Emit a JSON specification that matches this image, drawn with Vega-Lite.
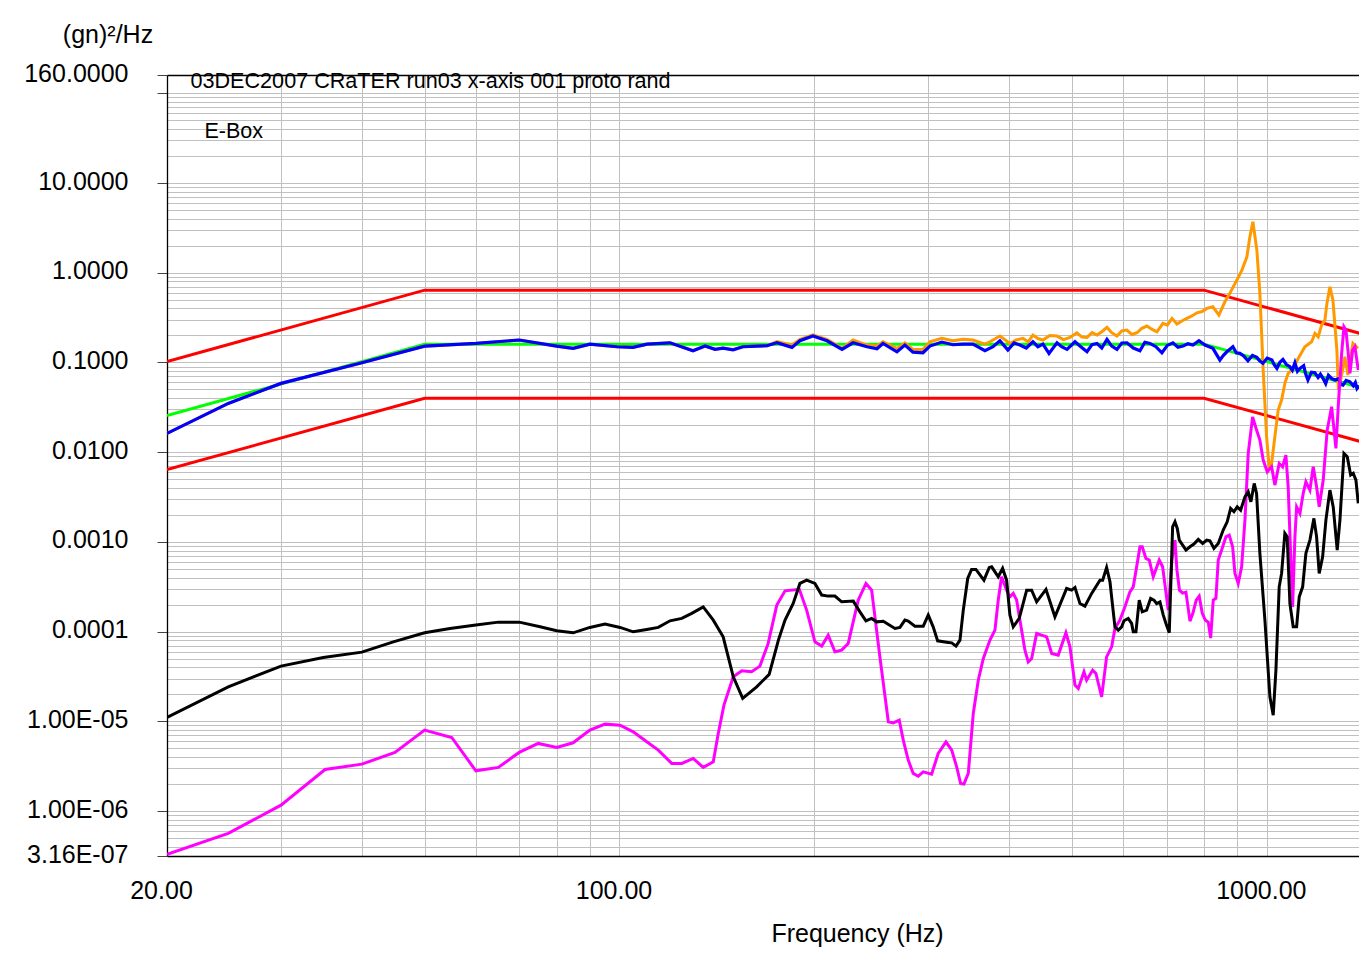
{
"$schema": "https://vega.github.io/schema/vega-lite/v6.json",
"width": 1192, "height": 781,
"autosize": {"type": "none"},
"padding": {"left": 167, "top": 75, "right": 0, "bottom": 99},
"background": "white",
"config": {"view": {"stroke": null}, "font": "Liberation Sans"},
"resolve": {"axis": {"x": "independent", "y": "independent"}},
"datasets": {
"red": [
{"b":"u","f":20,"v":0.1024},{"b":"u","f":50,"v":0.64},{"b":"u","f":800,"v":0.64},{"b":"u","f":2000,"v":0.1024},
{"b":"l","f":20,"v":0.0064},{"b":"l","f":50,"v":0.04},{"b":"l","f":800,"v":0.04},{"b":"l","f":2000,"v":0.0064}],
"green": [{"f":20,"v":0.0256},{"f":50,"v":0.16},{"f":800,"v":0.16},{"f":2000,"v":0.0256}],
"orange": [
{"f":20,"v":0.0162},{"f":24.87,"v":0.035},{"f":30,"v":0.0585},{"f":40,"v":0.0995},{"f":50,"v":0.152},{"f":60,"v":0.163},{"f":70,"v":0.178},{"f":80,"v":0.152},{"f":84.8,"v":0.1437},{"f":90,"v":0.16},{"f":99.1,"v":0.1497},{"f":104.9,"v":0.1474},{"f":110.3,"v":0.16},{"f":119.7,"v":0.1658},{"f":129.9,"v":0.1351},{"f":135.6,"v":0.1524},{"f":140.5,"v":0.14},{"f":144.5,"v":0.1447},{"f":149.8,"v":0.1386},{"f":155.1,"v":0.1497},{"f":163.1,"v":0.1524},{"f":169.0,"v":0.1536},
{"f":175.1,"v":0.171},{"f":184.7,"v":0.1563},{"f":190.0,"v":0.181},{"f":199.0,"v":0.2037},{"f":209.2,"v":0.181},{"f":220.7,"v":0.1437},{"f":229.5,"v":0.178},{"f":241.2,"v":0.1563},{"f":249.9,"v":0.1524},{"f":255.3,"v":0.1702},{"f":268.3,"v":0.1437},{"f":276.0,"v":0.1658},{"f":284.0,"v":0.14},{"f":294.3,"v":0.14},{"f":301.7,"v":0.1702},{"f":314.8,"v":0.1857},{"f":327.4,"v":0.1746},{"f":339.3,"v":0.181},{"f":351.6,"v":0.178},{"f":366.9,"v":0.1604},{"f":373.5,"v":0.1702},{"f":387.0,"v":0.197},{"f":401.0,"v":0.163},{"f":410,"v":0.178},{"f":420.0,"v":0.1857},{"f":428,"v":0.17},{"f":435.2,"v":0.202},{"f":443,"v":0.185},{"f":451.0,"v":0.178},{"f":462,"v":0.2},{"f":474.1,"v":0.197},{"f":485,"v":0.18},{"f":496.5,"v":0.1905},{"f":509.0,"v":0.2144},{"f":518,"v":0.192},{"f":527.5,"v":0.1905},{"f":537,"v":0.215},{"f":546.5,"v":0.202},{"f":556,"v":0.22},{"f":566.3,"v":0.2462},{"f":576,"v":0.215},{"f":586.8,"v":0.197},{"f":597,"v":0.225},{"f":608.0,"v":0.2298},{"f":619,"v":0.205},{"f":630.1,"v":0.2144},{"f":641,"v":0.24},{"f":652.8,"v":0.2546},{"f":664,"v":0.235},{"f":676.4,"v":0.22},{"f":691.0,"v":0.2729},{"f":702,"v":0.26},{"f":713.6,"v":0.3102},{"f":726.4,"v":0.268},{"f":739,"v":0.29},{"f":752.6,"v":0.3102},{"f":766,"v":0.33},{"f":779.9,"v":0.358},{"f":794,"v":0.37},{"f":808.1,"v":0.401},{"f":825.5,"v":0.418},{"f":843.3,"v":0.3377},{"f":861.4,"v":0.475},{"f":876.9,"v":0.589},{"f":886.3,"v":0.688},{"f":899.1,"v":0.829},{"f":915.2,"v":1.072},{"f":931.6,"v":1.508},{"f":941.6,"v":2.52},{"f":951.7,"v":3.7},{"f":965.2,"v":1.79},{"f":975.6,"v":0.589},{"f":987.2,"v":0.0823},{"f":999.2,"v":0.01485},{"f":1008.5,"v":0.0066},{"f":1017.2,"v":0.0075},{"f":1029,"v":0.01485},{"f":1041.3,"v":0.0295},{"f":1053.9,"v":0.0381},{"f":1066.3,"v":0.0585},{"f":1078.9,"v":0.0756},{"f":1098.3,"v":0.086},{"f":1118,"v":0.1111},{"f":1145,"v":0.1497},{"f":1172.8,"v":0.1702},{"f":1186.7,"v":0.2112},{"f":1200.6,"v":0.1935},{"f":1215.2,"v":0.2612},{"f":1229.5,"v":0.297},{"f":1238.3,"v":0.456},{"f":1251.6,"v":0.698},{"f":1265,"v":0.496},{"f":1283,"v":0.1375},{"f":1290,"v":0.0493},{"f":1306.3,"v":0.0756},{"f":1320.3,"v":0.1158},{"f":1334.5,"v":0.0724},{"f":1358.4,"v":0.163},{"f":1382.8,"v":0.1437}],
"blue": [
{"f":20,"v":0.0162},{"f":24.87,"v":0.035},{"f":30,"v":0.0585},{"f":40,"v":0.0995},{"f":50,"v":0.152},{"f":60,"v":0.163},{"f":70,"v":0.178},{"f":80,"v":0.152},{"f":84.8,"v":0.1437},{"f":90,"v":0.16},{"f":99.1,"v":0.1497},{"f":104.9,"v":0.1474},{"f":110.3,"v":0.16},{"f":119.7,"v":0.1658},{"f":129.9,"v":0.1351},{"f":135.6,"v":0.1524},{"f":140.5,"v":0.14},{"f":144.5,"v":0.1447},{"f":149.8,"v":0.1386},{"f":155.1,"v":0.1497},{"f":163.1,"v":0.1524},{"f":169.0,"v":0.1536},{"f":175.1,"v":0.1658},{"f":184.7,"v":0.1474},{"f":190.0,"v":0.1746},{"f":199.0,"v":0.197},{"f":209.2,"v":0.1746},{"f":220.7,"v":0.14},{"f":229.5,"v":0.1658},{"f":241.2,"v":0.1497},{"f":249.9,"v":0.1422},{"f":255.3,"v":0.163},{"f":268.3,"v":0.1316},{"f":276.0,"v":0.1563},{"f":284.0,"v":0.1306},{"f":294.3,"v":0.1283},{"f":301.7,"v":0.1524},{"f":314.8,"v":0.1689},{"f":327.4,"v":0.1576},{"f":339.3,"v":0.16},{"f":351.6,"v":0.16},{"f":366.9,"v":0.1351},{"f":377.6,"v":0.1497},{"f":387.0,"v":0.1746},{"f":398.1,"v":0.1375},{"f":407,"v":0.165},{"f":415.5,"v":0.1563},{"f":425,"v":0.145},{"f":435.2,"v":0.1702},{"f":443,"v":0.15},{"f":451.0,"v":0.16},{"f":460.8,"v":0.1264},{"f":474.1,"v":0.1658},{"f":482,"v":0.15},{"f":491.3,"v":0.14},{"f":505.4,"v":0.1702},{"f":516,"v":0.15},{"f":527.5,"v":0.1316},{"f":537,"v":0.158},{"f":546.5,"v":0.163},{"f":556,"v":0.145},{"f":566.3,"v":0.181},{"f":576,"v":0.152},{"f":586.8,"v":0.14},{"f":597,"v":0.165},{"f":608.0,"v":0.1658},{"f":622,"v":0.145},{"f":636.8,"v":0.1351},{"f":648,"v":0.168},{"f":659.8,"v":0.163},{"f":674,"v":0.15},{"f":688.6,"v":0.1283},{"f":702,"v":0.155},{"f":716.1,"v":0.1658},{"f":729,"v":0.148},{"f":742.0,"v":0.1524},{"f":755,"v":0.162},{"f":768.9,"v":0.1563},{"f":785.5,"v":0.1746},{"f":802.4,"v":0.1563},{"f":825.5,"v":0.1437},{"f":846.3,"v":0.1064},{"f":857,"v":0.12},{"f":867.6,"v":0.1316},{"f":886.3,"v":0.1497},{"f":897,"v":0.128},{"f":908.7,"v":0.1264},{"f":921,"v":0.118},{"f":934.9,"v":0.1045},{"f":950,"v":0.12},{"f":965.2,"v":0.114},{"f":975,"v":0.104},{"f":986.2,"v":0.0977},{"f":1001,"v":0.112},{"f":1018.3,"v":0.1064},{"f":1027,"v":0.094},{"f":1036.5,"v":0.086},{"f":1047,"v":0.1},{"f":1058.9,"v":0.1083},{"f":1072,"v":0.095},{"f":1085.6,"v":0.0896},{"f":1095,"v":0.082},{"f":1105,"v":0.0995},{"f":1115,"v":0.08},{"f":1125,"v":0.086},{"f":1140,"v":0.092},{"f":1148,"v":0.075},{"f":1157.5,"v":0.0637},{"f":1172,"v":0.078},{"f":1186.7,"v":0.0768},{"f":1200,"v":0.068},{"f":1210,"v":0.074},{"f":1221,"v":0.0665},{"f":1233,"v":0.058},{"f":1245,"v":0.072},{"f":1260,"v":0.066},{"f":1274,"v":0.0637},{"f":1292,"v":0.066},{"f":1300,"v":0.057},{"f":1311,"v":0.056},{"f":1326,"v":0.063},{"f":1344,"v":0.061},{"f":1360,"v":0.055},{"f":1370,"v":0.06},{"f":1378,"v":0.0514},{"f":1388,"v":0.055}],
"magenta": [
{"f":20,"v":3.3e-7},{"f":24.87,"v":5.64e-7},{"f":30,"v":1.165e-6},{"f":35.09,"v":2.91e-6},{"f":40,"v":3.34e-6},{"f":45.0,"v":4.51e-6},{"f":50,"v":7.99e-6},{"f":55.06,"v":6.62e-6},{"f":60,"v":2.81e-6},{"f":65.0,"v":3.07e-6},{"f":70,"v":4.51e-6},{"f":74.9,"v":5.68e-6},{"f":80,"v":5.12e-6},{"f":84.8,"v":5.77e-6},{"f":90,"v":7.99e-6},{"f":94.98,"v":9.32e-6},{"f":100.2,"v":9.08e-6},{"f":105.0,"v":7.65e-6},{"f":110.2,"v":5.92e-6},{"f":114.8,"v":4.78e-6},{"f":120.4,"v":3.4e-6},{"f":124.8,"v":3.4e-6},{"f":130.0,"v":3.86e-6},{"f":134.7,"v":3.07e-6},{"f":139.6,"v":3.54e-6},{"f":142.1,"v":7.34e-6},{"f":145.0,"v":1.518e-5},{"f":149.9,"v":3.14e-5},{"f":154.5,"v":3.66e-5},{"f":160.0,"v":3.57e-5},{"f":164.8,"v":4.13e-5},{"f":169.7,"v":7.39e-5},{"f":175.0,"v":1.976e-4},{"f":180.2,"v":2.85e-4},{"f":189.6,"v":2.96e-4},{"f":194.6,"v":1.739e-4},{"f":200.4,"v":7.7e-5},{"f":205.3,"v":6.9e-5},{"f":210.1,"v":9.15e-5},{"f":215.2,"v":5.96e-5},{"f":220.4,"v":6.22e-5},{"f":225.6,"v":7.39e-5},{"f":233.8,"v":2.25e-4},{"f":240.3,"v":3.45e-4},{"f":245.2,"v":2.9e-4},{"f":252.5,"v":5.24e-5},{"f":260.2,"v":9.89e-6},{"f":264.8,"v":9.63e-6},{"f":270.5,"v":1.032e-5},{"f":274.4,"v":6.18e-6},{"f":279.3,"v":3.7e-6},{"f":284.3,"v":2.63e-6},{"f":289.4,"v":2.45e-6},{"f":294.6,"v":2.74e-6},{"f":303.5,"v":2.58e-6},{"f":310.7,"v":4.39e-6},{"f":319.4,"v":5.92e-6},{"f":326.0,"v":4.78e-6},{"f":331.8,"v":3.11e-6},{"f":336.5,"v":2.03e-6},{"f":340.5,"v":2.0e-6},{"f":345.8,"v":2.63e-6},{"f":352.0,"v":1.226e-5},{"f":358.3,"v":2.88e-5},{"f":364.8,"v":5.03e-5},{"f":373.5,"v":8.05e-5},{"f":380.2,"v":1.041e-4},{"f":384.7,"v":2.25e-4},{"f":389.3,"v":4.09e-4},{"f":396.3,"v":2.9e-4},{"f":401.0,"v":2.45e-4},{"f":405.8,"v":2.67e-4},{"f":410.7,"v":2.25e-4},{"f":415.5,"v":1.345e-4},{"f":423.0,"v":6.22e-5},{"f":428.0,"v":4.61e-5},{"f":433.2,"v":5.03e-5},{"f":441.0,"v":9.56e-5},{"f":448.9,"v":9.15e-5},{"f":457.0,"v":8.76e-5},{"f":465.2,"v":5.72e-5},{"f":476.2,"v":5.48e-5},{"f":489.4,"v":9.71e-5},{"f":496.5,"v":6.78e-5},{"f":505.4,"v":2.54e-5},{"f":511.4,"v":2.33e-5},{"f":521.8,"v":3.57e-5},{"f":526.8,"v":2.88e-5},{"f":538.2,"v":3.73e-5},{"f":544.5,"v":3.42e-5},{"f":555.7,"v":1.877e-5},{"f":565.6,"v":5.24e-5},{"f":575.8,"v":6.78e-5},{"f":582.6,"v":1.087e-4},{"f":593.1,"v":1.345e-4},{"f":603.7,"v":1.891e-4},{"f":614.5,"v":2.78e-4},{"f":621.8,"v":3.16e-4},{"f":629.4,"v":5.28e-4},{"f":636.8,"v":8.83e-4},{"f":642.0,"v":8.83e-4},{"f":650.5,"v":6.55e-4},{"f":658.2,"v":6.27e-4},{"f":667.6,"v":4.09e-4},{"f":682.0,"v":6.27e-4},{"f":690.3,"v":5.28e-4},{"f":704.2,"v":1.739e-4},{"f":713.6,"v":6.27e-4},{"f":721.3,"v":1.048e-3},{"f":726.4,"v":4.85e-4},{"f":732.9,"v":2.9e-4},{"f":741.3,"v":2.69e-4},{"f":750.0,"v":2.76e-4},{"f":760.8,"v":1.311e-4},{"f":768.9,"v":1.609e-4},{"f":777.9,"v":2.25e-4},{"f":786.2,"v":2.49e-4},{"f":794.7,"v":1.609e-4},{"f":803.2,"v":1.345e-4},{"f":811.9,"v":1.277e-4},{"f":818.9,"v":8.47e-5},{"f":826.5,"v":2.25e-4},{"f":834.4,"v":2.35e-4},{"f":841.3,"v":6.27e-4},{"f":851.5,"v":8.11e-4},{"f":864.6,"v":1.141e-3},{"f":874.9,"v":1.191e-3},{"f":885.5,"v":8.83e-4},{"f":892.8,"v":4.46e-4},{"f":903.3,"v":3.45e-4},{"f":914.3,"v":5.28e-4},{"f":925.1,"v":1.751e-3},{"f":936.0,"v":9.7e-3},{"f":950.7,"v":0.0248},{"f":964.2,"v":0.01764},{"f":975.6,"v":0.01365},{"f":987.2,"v":8.17e-3},{"f":1001.4,"v":6.05e-3},{"f":1017.2,"v":6.88e-3},{"f":1029,"v":4.3e-3},{"f":1045,"v":7.5e-3},{"f":1057.7,"v":6.88e-3},{"f":1070.1,"v":9.29e-3},{"f":1078.9,"v":4.12e-3},{"f":1088.3,"v":7.45e-4},{"f":1096.1,"v":1.891e-4},{"f":1105.1,"v":1.141e-3},{"f":1111.8,"v":2.46e-3},{"f":1125,"v":2.08e-3},{"f":1138.1,"v":3.47e-3},{"f":1149.1,"v":4.68e-3},{"f":1165.6,"v":3.78e-3},{"f":1179.4,"v":6.88e-3},{"f":1193.7,"v":4.12e-3},{"f":1204.8,"v":2.46e-3},{"f":1222.1,"v":4.89e-3},{"f":1239.6,"v":0.01764},{"f":1259.2,"v":0.0321},{"f":1278.6,"v":0.01103},{"f":1289.1,"v":0.0321},{"f":1304.9,"v":0.1264},{"f":1315.6,"v":0.25},{"f":1325,"v":0.2298},{"f":1335.9,"v":0.1264},{"f":1344,"v":0.0756},{"f":1356.9,"v":0.1375},{"f":1368,"v":0.1497},{"f":1384.3,"v":0.0823}],
"black": [
{"f":20,"v":1.107e-5},{"f":24.87,"v":2.43e-5},{"f":30,"v":4.13e-5},{"f":34.87,"v":5.16e-5},{"f":40,"v":5.91e-5},{"f":44.73,"v":7.7e-5},{"f":50,"v":9.71e-5},{"f":54.72,"v":1.087e-4},{"f":60,"v":1.183e-4},{"f":65.0,"v":1.277e-4},{"f":70,"v":1.277e-4},{"f":75.4,"v":1.132e-4},{"f":80,"v":1.022e-4},{"f":84.8,"v":9.71e-5},{"f":90,"v":1.115e-4},{"f":94.98,"v":1.213e-4},{"f":100.2,"v":1.115e-4},{"f":105.0,"v":9.96e-5},{"f":110.2,"v":1.059e-4},{"f":114.8,"v":1.115e-4},{"f":119.7,"v":1.321e-4},{"f":124.8,"v":1.405e-4},{"f":129.3,"v":1.597e-4},{"f":134.7,"v":1.891e-4},{"f":139.6,"v":1.345e-4},{"f":144.6,"v":8.76e-5},{"f":149.9,"v":3.14e-5},{"f":155.0,"v":1.802e-5},{"f":162.9,"v":2.43e-5},{"f":170.3,"v":3.34e-5},{"f":176.0,"v":8.05e-5},{"f":180.2,"v":1.345e-4},{"f":185.5,"v":2.06e-4},{"f":190.0,"v":3.45e-4},{"f":194.6,"v":3.75e-4},{"f":200.4,"v":3.45e-4},{"f":205.3,"v":2.56e-4},{"f":210.1,"v":2.49e-4},{"f":215.2,"v":2.49e-4},{"f":220.4,"v":2.15e-4},{"f":229.7,"v":2.19e-4},{"f":235.2,"v":1.664e-4},{"f":240.3,"v":1.321e-4},{"f":245.2,"v":1.405e-4},{"f":249.6,"v":1.287e-4},{"f":255.6,"v":1.309e-4},{"f":266.4,"v":1.087e-4},{"f":271.2,"v":1.115e-4},{"f":276.0,"v":1.345e-4},{"f":279.3,"v":1.309e-4},{"f":286.0,"v":1.152e-4},{"f":294.6,"v":1.152e-4},{"f":299.9,"v":1.529e-4},{"f":305.2,"v":1.132e-4},{"f":310.1,"v":7.9e-5},{"f":322.0,"v":7.59e-5},{"f":326.0,"v":7.5e-5},{"f":331.0,"v":6.9e-5},{"f":335.7,"v":8.05e-5},{"f":339.7,"v":1.739e-4},{"f":345.1,"v":3.92e-4},{"f":349.9,"v":4.94e-4},{"f":355.3,"v":4.94e-4},{"f":365.6,"v":3.75e-4},{"f":372.6,"v":5.2e-4},{"f":375.8,"v":5.28e-4},{"f":384.7,"v":4.09e-4},{"f":390.7,"v":5.07e-4},{"f":396.3,"v":3.75e-4},{"f":401.0,"v":1.529e-4},{"f":405.8,"v":1.132e-4},{"f":414.5,"v":1.405e-4},{"f":425.6,"v":2.9e-4},{"f":433.2,"v":2.9e-4},{"f":441.0,"v":2.15e-4},{"f":455.9,"v":2.96e-4},{"f":470.6,"v":1.464e-4},{"f":490.6,"v":3.03e-4},{"f":499.4,"v":2.9e-4},{"f":505.4,"v":3.11e-4},{"f":514.4,"v":2.06e-4},{"f":523.6,"v":1.926e-4},{"f":536.3,"v":2.67e-4},{"f":552.4,"v":3.75e-4},{"f":557.7,"v":3.75e-4},{"f":565.6,"v":5.2e-4},{"f":572.4,"v":3.59e-4},{"f":578.0,"v":1.891e-4},{"f":582.6,"v":1.132e-4},{"f":589.5,"v":1.041e-4},{"f":596.7,"v":1.132e-4},{"f":601.6,"v":1.321e-4},{"f":610.8,"v":1.405e-4},{"f":618.2,"v":1.235e-4},{"f":621.8,"v":9.96e-5},{"f":627.8,"v":9.96e-5},{"f":635.2,"v":2.25e-4},{"f":642.0,"v":1.664e-4},{"f":652.1,"v":1.739e-4},{"f":661.5,"v":2.35e-4},{"f":669.3,"v":2.25e-4},{"f":675.7,"v":2.06e-4},{"f":683.8,"v":2.15e-4},{"f":691.9,"v":1.529e-4},{"f":698.5,"v":1.235e-4},{"f":706.8,"v":9.71e-5},{"f":715.3,"v":1.475e-3},{"f":721.3,"v":1.676e-3},{"f":727.2,"v":1.415e-3},{"f":732.4,"v":1.048e-3},{"f":741.3,"v":9.22e-4},{"f":750.0,"v":8.11e-4},{"f":760.8,"v":8.83e-4},{"f":771.6,"v":9.46e-4},{"f":783.6,"v":1.067e-3},{"f":795.9,"v":9.63e-4},{"f":807.4,"v":1.048e-3},{"f":816.9,"v":1.029e-3},{"f":828.5,"v":8.47e-4},{"f":841.3,"v":9.63e-4},{"f":856.3,"v":1.355e-3},{"f":868.5,"v":1.676e-3},{"f":879.2,"v":2.36e-3},{"f":889.6,"v":2.17e-3},{"f":900.1,"v":2.46e-3},{"f":911.0,"v":2.26e-3},{"f":925.1,"v":3.18e-3},{"f":936.0,"v":3.62e-3},{"f":944.9,"v":2.8e-3},{"f":956.1,"v":4.49e-3},{"f":964.2,"v":3.47e-3},{"f":975.6,"v":7.45e-4},{"f":993.2,"v":1.345e-4},{"f":1011.0,"v":1.877e-5},{"f":1023.0,"v":1.174e-5},{"f":1032.9,"v":3.73e-5},{"f":1045,"v":3.16e-4},{"f":1053.9,"v":4.46e-4},{"f":1066.3,"v":1.245e-3},{"f":1075.1,"v":1.141e-3},{"f":1085.6,"v":2.06e-4},{"f":1098.3,"v":1.132e-4},{"f":1111.8,"v":1.132e-4},{"f":1122.2,"v":2.45e-4},{"f":1135.9,"v":3.16e-4},{"f":1149.1,"v":7.45e-4},{"f":1165.6,"v":1.048e-3},{"f":1182.3,"v":1.83e-3},{"f":1193.7,"v":1.141e-3},{"f":1204.8,"v":4.46e-4},{"f":1219.6,"v":6.83e-4},{"f":1233.9,"v":1.751e-3},{"f":1251.6,"v":3.78e-3},{"f":1266.4,"v":2.46e-3},{"f":1284.5,"v":8.11e-4},{"f":1297,"v":1.751e-3},{"f":1315.6,"v":9.7e-3},{"f":1331.2,"v":8.89e-3},{"f":1347.4,"v":5.56e-3},{"f":1359.9,"v":5.81e-3},{"f":1373,"v":4.89e-3},{"f":1384.3,"v":2.69e-3}]
},
"layer": [
{
"data": {"name": "red"},
"mark": {"type": "line", "color": "#FF0000", "strokeWidth": 3, "clip": true},
"encoding": {
"x": {"field": "f", "type": "quantitative", "scale": {"type": "log", "domain": [20, 1388], "nice": false},
 "axis": {"orient": "bottom", "grid": true, "gridColor": "#C0C0C0", "gridWidth": 1, "labels": false, "ticks": false, "domain": false,
  "values": [20,30,40,50,60,70,80,90,100,200,300,400,500,600,700,800,900,1000],
  "title": "E-Box", "titleX": 37, "titleY": -718.5, "titleAlign": "left", "titleAnchor": "start", "titleBaseline": "alphabetic",
  "titleFont": "Liberation Sans", "titleFontSize": 21.5, "titleFontWeight": "normal", "titleColor": "black", "zindex": 0}},
"y": {"field": "v", "type": "quantitative", "scale": {"type": "log", "domain": [3.16e-7, 160], "nice": false},
 "axis": {"orient": "left", "grid": true, "gridColor": "#C0C0C0", "gridWidth": 1, "labels": false, "ticks": false, "domain": false, "title": null,
  "values": [4e-7,5e-7,6e-7,7e-7,8e-7,9e-7,1e-6,2e-6,3e-6,4e-6,5e-6,6e-6,7e-6,8e-6,9e-6,1e-5,2e-5,3e-5,4e-5,5e-5,6e-5,7e-5,8e-5,9e-5,0.0001,0.0002,0.0003,0.0004,0.0005,0.0006,0.0007,0.0008,0.0009,0.001,0.002,0.003,0.004,0.005,0.006,0.007,0.008,0.009,0.01,0.02,0.03,0.04,0.05,0.06,0.07,0.08,0.09,0.1,0.2,0.3,0.4,0.5,0.6,0.7,0.8,0.9,1,2,3,4,5,6,7,8,9,10,20,30,40,50,60,70,80,90,100], "zindex": 0}},
"detail": {"field": "b"}
}
},
{
"data": {"name": "green"},
"mark": {"type": "line", "color": "#00FF00", "strokeWidth": 3, "clip": true},
"encoding": {
"x": {"field": "f", "type": "quantitative", "scale": {"type": "log", "domain": [20, 1388], "nice": false},
 "axis": {"orient": "top", "grid": false, "labels": false, "ticks": false, "domain": true, "domainColor": "black", "domainWidth": 1.3,
  "title": "03DEC2007 CRaTER run03 x-axis 001 proto rand", "titleX": 23, "titleY": 12, "titleAlign": "left", "titleAnchor": "start", "titleBaseline": "alphabetic",
  "titleFont": "Liberation Sans", "titleFontSize": 21.6, "titleFontWeight": "normal", "titleColor": "black"}},
"y": {"field": "v", "type": "quantitative", "scale": {"type": "log", "domain": [3.16e-7, 160], "nice": false}, "axis": null}
}
},
{
"data": {"name": "orange"},
"mark": {"type": "line", "color": "#FF9900", "strokeWidth": 3, "clip": true},
"encoding": {
"x": {"field": "f", "type": "quantitative", "scale": {"type": "log", "domain": [20, 1388], "nice": false},
 "axis": {"orient": "bottom", "grid": false, "ticks": false, "domain": true, "domainColor": "black", "domainWidth": 1.3,
  "values": [20, 100, 1000], "format": ".2f", "labelFont": "Liberation Sans", "labelFontSize": 25, "labelColor": "black",
  "labelPadding": 42, "labelBaseline": "alphabetic", "labelOffset": -6, "labelOverlap": false, "labelBound": false, "labelFlush": false,
  "title": "Frequency (Hz)", "titleX": 690, "titleY": 85, "titleAlign": "center", "titleBaseline": "alphabetic",
  "titleFont": "Liberation Sans", "titleFontSize": 25, "titleFontWeight": "normal", "titleColor": "black"}},
"y": {"field": "v", "type": "quantitative", "scale": {"type": "log", "domain": [3.16e-7, 160], "nice": false},
 "axis": {"orient": "left", "grid": false, "ticks": true, "tickSize": 10, "tickColor": "#444444", "tickWidth": 1, "domain": true, "domainColor": "black", "domainWidth": 1.3,
  "values": [160, 100, 10, 1, 0.1, 0.01, 0.001, 0.0001, 0.00001, 0.000001, 3.16e-7],
  "labelExpr": "datum.value > 50 && datum.value < 150 ? '' : datum.value >= 0.00009 ? format(datum.value, '.4f') : datum.value > 0.000005 ? '1.00E-05' : datum.value > 0.0000005 ? '1.00E-06' : '3.16E-07'",
  "labelFont": "Liberation Sans", "labelFontSize": 25, "labelColor": "black", "labelPadding": 29, "labelBaseline": "middle", "labelOffset": -2,
  "labelOverlap": false, "labelBound": false, "labelFlush": false,
  "title": "(gn)²/Hz", "titleAngle": 0, "titleX": -59.5, "titleY": -32.5, "titleAlign": "center", "titleBaseline": "alphabetic",
  "titleFont": "Liberation Sans", "titleFontSize": 25, "titleFontWeight": "normal", "titleColor": "black"}}
}
},
{
"data": {"name": "blue"},
"mark": {"type": "line", "color": "#0000FF", "strokeWidth": 3.2, "clip": true},
"encoding": {
"x": {"field": "f", "type": "quantitative", "scale": {"type": "log", "domain": [20, 1388], "nice": false}, "axis": null},
"y": {"field": "v", "type": "quantitative", "scale": {"type": "log", "domain": [3.16e-7, 160], "nice": false}, "axis": null}
}
},
{
"data": {"name": "magenta"},
"mark": {"type": "line", "color": "#FF00FF", "strokeWidth": 3, "clip": true},
"encoding": {
"x": {"field": "f", "type": "quantitative", "scale": {"type": "log", "domain": [20, 1388], "nice": false}, "axis": null},
"y": {"field": "v", "type": "quantitative", "scale": {"type": "log", "domain": [3.16e-7, 160], "nice": false}, "axis": null}
}
},
{
"data": {"name": "black"},
"mark": {"type": "line", "color": "#000000", "strokeWidth": 3, "clip": true},
"encoding": {
"x": {"field": "f", "type": "quantitative", "scale": {"type": "log", "domain": [20, 1388], "nice": false}, "axis": null},
"y": {"field": "v", "type": "quantitative", "scale": {"type": "log", "domain": [3.16e-7, 160], "nice": false}, "axis": null}
}
}
]
}
